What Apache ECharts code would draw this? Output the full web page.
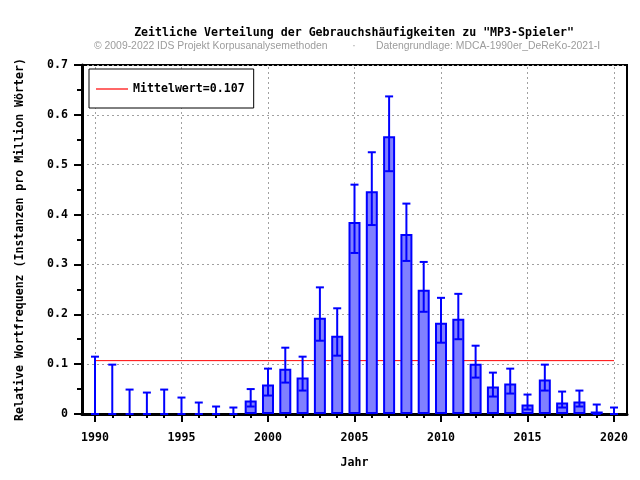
<!DOCTYPE html>
<html><head><meta charset="utf-8">
<script src="https://cdn.jsdelivr.net/npm/echarts@6/dist/echarts.min.js"></script>
<style>html,body{margin:0;padding:0;background:#fff}#c{width:640px;height:480px}</style>
</head><body><div id="c"></div>
<script>
const years = [1990,1991,1992,1993,1994,1995,1996,1997,1998,1999,2000,2001,2002,2003,2004,2005,2006,2007,2008,2009,2010,2011,2012,2013,2014,2015,2016,2017,2018,2019,2020];
const values = [0,0,0,0,0,0,0,0,0,0.027,0.059,0.091,0.073,0.193,0.157,0.385,0.447,0.557,0.361,0.249,0.183,0.191,0.101,0.055,0.061,0.019,0.069,0.023,0.025,0.005,0];
const errLow = [0,0,0,0,0,0,0,0,0,0.015,0.037,0.063,0.047,0.147,0.117,0.323,0.379,0.487,0.307,0.205,0.143,0.150,0.073,0.035,0.041,0.009,0.047,0.013,0.015,0.000,0];
const errHigh = [0.115,0.099,0.049,0.043,0.049,0.033,0.023,0.015,0.013,0.050,0.091,0.133,0.115,0.254,0.212,0.460,0.525,0.637,0.422,0.305,0.233,0.241,0.137,0.083,0.091,0.039,0.099,0.045,0.047,0.019,0.013];
const meanValue = 0.107;
const xLabelYears = [1990,1995,2000,2005,2010,2015,2020];
const titleText = 'Zeitliche Verteilung der Gebrauchshäufigkeiten zu "MP3-Spieler"';
const subLeft = '© 2009-2022 IDS Projekt Korpusanalysemethoden';
const subRight = 'Datengrundlage: MDCA-1990er_DeReKo-2021-I';
const xName = 'Jahr';
const yName = 'Relative Wortfrequenz (Instanzen pro Million Wörter)';
const legendName = 'Mittelwert=' + meanValue;

const MONO = 'DejaVu Sans Mono';
const FS = 11.6;
const chart = echarts.init(document.getElementById('c'), null, {renderer:'canvas'});

const barData = [];
years.forEach((y,i)=>{ if (values[i] > 0) barData.push([y, values[i]]); });
const errData = years.map((y,i)=>[y, errLow[i], errHigh[i]]);

const xMin = 1989.25, xMax = 2020.75;
const SUBFONT = '10.4px "Liberation Sans"';

const option = {
  animation: false,
  backgroundColor: '#fff',
  grid: {left: 82, right: 13, top: 65, bottom: 66, show: true, borderColor: '#000', borderWidth: 2, backgroundColor: 'transparent'},
  graphic: [
    {type:'text', x: 354, y: 33, style:{text: titleText, font: 'bold '+FS+'px "'+MONO+'"', fill:'#000', align:'center', verticalAlign:'middle'}},
    {type:'text', x: 94, y: 46, style:{text: subLeft, font: SUBFONT, fill:'#9c9c9c', verticalAlign:'middle'}},
    {type:'text', x: 354, y: 46, style:{text: '·', font: SUBFONT, fill:'#9c9c9c', align:'center', verticalAlign:'middle'}},
    {type:'text', x: 376, y: 46, style:{text: subRight, font: SUBFONT, fill:'#9c9c9c', verticalAlign:'middle'}}
  ],
  legend: {
    left: 89, top: 69,
    data: [{name: legendName, icon: 'path://M0,0L32,0L32,1.2L0,1.2Z'}],
    symbolKeepAspect: true,
    itemWidth: 32, itemHeight: 14, itemGap: 0,
    padding: [14, 9, 13, 7],
    backgroundColor: '#fff', borderColor: '#000', borderWidth: 1, borderRadius: 0,
    itemStyle: {color: '#ff0000', borderWidth: 0},
    textStyle: {fontFamily: MONO, fontWeight: 'bold', fontSize: FS, color: '#000'},
    selectedMode: false
  },
  xAxis: [{
    type: 'value', min: xMin, max: xMax,
    name: xName, nameLocation: 'middle', nameGap: 43,
    nameTextStyle: {fontFamily: MONO, fontWeight: 'bold', fontSize: FS, color: '#000'},
    axisLine: {show: true, onZero: false, lineStyle: {color: '#000', width: 3}},
    axisTick: {show: true, inside: false, length: 8, customValues: xLabelYears, lineStyle: {color: '#000', width: 2}},
    axisLabel: {show: true, customValues: xLabelYears, margin: 18, fontFamily: MONO, fontWeight: 'bold', fontSize: FS, color: '#000', formatter: v => String(v)},
    splitLine: {show: false}
  },{
    type: 'value', min: xMin, max: xMax, position: 'bottom',
    axisLine: {show: false},
    axisTick: {show: true, inside: false, length: 4, customValues: years, lineStyle: {color: '#000', width: 2}},
    axisLabel: {show: false},
    splitLine: {show: false}
  }],
  yAxis: {
    type: 'value', min: 0, max: 0.7, interval: 0.1,
    name: yName, nameLocation: 'middle', nameGap: 56, nameRotate: 90,
    nameTextStyle: {fontFamily: MONO, fontWeight: 'bold', fontSize: FS, color: '#000'},
    axisLine: {show: true, lineStyle: {color: '#000', width: 3}},
    axisTick: {show: true, inside: false, length: 8, lineStyle: {color: '#000', width: 2}},
    minorTick: {show: true, splitNumber: 2, length: 5, lineStyle: {color: '#000', width: 2}},
    axisLabel: {margin: 14, fontFamily: MONO, fontWeight: 'bold', fontSize: FS, color: '#000',
      formatter: v => v === 0 ? '0' : v.toFixed(1)},
    splitLine: {show: true, lineStyle: {color: '#a0a0a0', width: 1, type: [2, 3]}}
  },
  series: [
    {
      type: 'line', xAxisIndex: 0, z: 0, data: [],
      markLine: {
        silent: true, symbol: 'none', label: {show: false}, z: 0,
        lineStyle: {color: '#a0a0a0', width: 1, type: [2, 3]},
        data: xLabelYears.map(y => ({xAxis: y}))
      }
    },
    {
      name: legendName, type: 'line', xAxisIndex: 0, z: 1,
      data: [[years[0], meanValue], [years[years.length-1], meanValue]],
      symbol: 'none', showSymbol: false, lineStyle: {color: '#ff0000', width: 1}, itemStyle: {color: '#ff0000'},
      silent: true
    },
    {
      type: 'bar', xAxisIndex: 0, z: 2, data: barData, barWidth: 12,
      itemStyle: {color: '#8080ff', borderColor: '#0000ff', borderWidth: 2}
    },
    {
      type: 'custom', xAxisIndex: 0, z: 3, data: errData,
      encode: {x: 0, y: [1, 2]},
      renderItem: function(params, api){
        const x = api.value(0), lo = api.value(1), hi = api.value(2);
        const pLo = api.coord([x, lo]), pHi = api.coord([x, hi]);
        const w = 4;
        const style = {stroke: '#0000ff', lineWidth: 2};
        return {type: 'group', children: [
          {type: 'line', shape: {x1: pLo[0], y1: pLo[1], x2: pHi[0], y2: pHi[1]}, style: style},
          {type: 'line', shape: {x1: pHi[0]-w, y1: pHi[1], x2: pHi[0]+w, y2: pHi[1]}, style: style},
          {type: 'line', shape: {x1: pLo[0]-w, y1: pLo[1], x2: pLo[0]+w, y2: pLo[1]}, style: style}
        ]};
      }
    }
  ]
};
chart.setOption(option);
</script>
</body></html>
